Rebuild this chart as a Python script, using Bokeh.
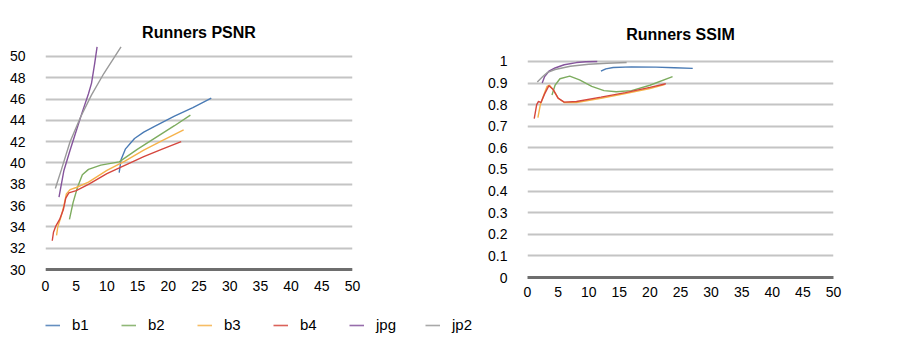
from bokeh.plotting import figure
from bokeh.layouts import column, row
from bokeh.models import Range1d, FixedTicker, NumeralTickFormatter, Legend, LegendItem, Span
from bokeh.embed import file_html
from bokeh.resources import INLINE

# ---------------- data ----------------
series_names = ["b1", "b2", "b3", "b4", "jpg", "jp2"]
series_colors = ["#4a7bb5", "#7dac5f", "#f6b24a", "#d5463d", "#85549c", "#9a9a9a"]

# PSNR chart (x, value)
psnr_b1_x = [12.0, 12.3, 13.0, 14.5, 16.0, 18.0, 21.0, 24.0, 27.0]
psnr_b1_y = [39.1, 40.3, 41.3, 42.3, 42.9, 43.5, 44.4, 45.2, 46.1]
psnr_b2_x = [3.9, 4.5, 5.2, 6.0, 7.0, 9.0, 12.0, 15.0, 18.0, 21.0, 23.6]
psnr_b2_y = [34.7, 36.3, 37.7, 38.9, 39.4, 39.8, 40.1, 41.3, 42.4, 43.5, 44.5]
psnr_b3_x = [1.8, 2.0, 2.5, 3.0, 3.4, 4.0, 5.0, 7.0, 10.0, 13.0, 16.0, 19.0, 22.5]
psnr_b3_y = [33.2, 34.0, 34.9, 36.0, 37.1, 37.5, 37.7, 38.2, 39.3, 40.2, 41.2, 42.1, 43.1]
psnr_b4_x = [1.1, 1.3, 1.7, 2.3, 2.9, 3.3, 3.8, 5.0, 7.0, 10.0, 13.0, 16.0, 19.0, 22.1]
psnr_b4_y = [32.7, 33.5, 34.1, 34.7, 35.6, 36.7, 37.2, 37.4, 38.0, 39.0, 39.8, 40.6, 41.3, 42.0]
psnr_jpg_x = [2.2, 3.0, 4.0, 5.0, 6.0, 7.0, 7.5, 8.0, 8.4]
psnr_jpg_y = [36.8, 39.3, 41.2, 43.0, 44.8, 46.5, 47.5, 49.3, 50.9]
psnr_jp2_x = [1.6, 2.6, 4.0, 5.7, 7.5, 9.5, 12.3]
psnr_jp2_y = [37.6, 39.4, 42.0, 44.3, 46.4, 48.4, 50.9]

# SSIM chart (x, value)
ssim_b1_x = [12.0, 12.8, 14.0, 17.0, 21.0, 24.0, 27.0]
ssim_b1_y = [0.955, 0.966, 0.972, 0.975, 0.974, 0.971, 0.968]
ssim_b2_x = [4.0, 4.5, 5.3, 6.9, 8.5, 10.5, 12.5, 14.5, 17.0, 20.0, 23.7]
ssim_b2_y = [0.845, 0.89, 0.92, 0.932, 0.915, 0.885, 0.865, 0.86, 0.865, 0.89, 0.93]
ssim_b3_x = [1.7, 2.1, 2.6, 3.2, 3.6, 4.3, 5.0, 6.0, 8.0, 12.0, 16.0, 20.0, 22.4]
ssim_b3_y = [0.74, 0.80, 0.84, 0.885, 0.89, 0.865, 0.83, 0.81, 0.81, 0.83, 0.852, 0.875, 0.893]
ssim_b4_x = [1.1, 1.5, 1.8, 2.2, 2.8, 3.5, 4.2, 5.0, 6.0, 8.0, 12.0, 16.0, 20.0, 22.6]
ssim_b4_y = [0.735, 0.80, 0.815, 0.81, 0.85, 0.888, 0.87, 0.83, 0.812, 0.815, 0.835, 0.856, 0.88, 0.897]
ssim_jpg_x = [2.4, 2.8, 3.5, 4.5, 6.0, 8.0, 9.5, 11.4]
ssim_jpg_y = [0.90, 0.93, 0.955, 0.97, 0.985, 0.995, 0.999, 1.0]
ssim_jp2_x = [1.6, 2.5, 3.2, 4.5, 7.0, 10.0, 13.0, 16.2]
ssim_jp2_y = [0.905, 0.93, 0.948, 0.963, 0.978, 0.987, 0.992, 0.995]

x_ticks = [0, 5, 10, 15, 20, 25, 30, 35, 40, 45, 50]
psnr_ticks = [30, 32, 34, 36, 38, 40, 42, 44, 46, 48, 50]
ssim_ticks = [0, 0.1, 0.2, 0.3, 0.4, 0.5, 0.6, 0.7, 0.8, 0.9, 1.0]

psnr_data = [(psnr_b1_x, psnr_b1_y), (psnr_b2_x, psnr_b2_y), (psnr_b3_x, psnr_b3_y),
             (psnr_b4_x, psnr_b4_y), (psnr_jpg_x, psnr_jpg_y), (psnr_jp2_x, psnr_jp2_y)]
ssim_data = [(ssim_b1_x, ssim_b1_y), (ssim_b2_x, ssim_b2_y), (ssim_b3_x, ssim_b3_y),
             (ssim_b4_x, ssim_b4_y), (ssim_jpg_x, ssim_jpg_y), (ssim_jp2_x, ssim_jp2_y)]

FONT = "Liberation Sans"
AXIS_COLOR = "#6e6e6e"


def style(p, yticks):
    p.title.text_font = FONT
    p.title.text_font_size = "16px"
    p.title.text_font_style = "bold"
    p.title.align = "center"
    p.title.text_color = "#000000"
    p.outline_line_color = None
    p.background_fill_color = None
    p.border_fill_color = None
    p.xgrid.grid_line_color = None
    p.ygrid.grid_line_color = "#c4c4c4"
    p.ygrid.grid_line_width = 2
    p.ygrid.ticker = FixedTicker(ticks=yticks)
    p.yaxis.ticker = FixedTicker(ticks=yticks)
    p.xaxis.ticker = FixedTicker(ticks=x_ticks)
    for ax in (p.xaxis[0], p.yaxis[0]):
        ax.major_tick_line_color = None
        ax.minor_tick_line_color = None
        ax.major_label_text_font = FONT
        ax.major_label_text_font_size = "14px"
        ax.major_label_text_color = "#000000"
    p.yaxis.axis_line_color = None
    p.yaxis.major_label_standoff = 14


# ---------------- PSNR ----------------
p1 = figure(width=485, height=305, output_backend="svg", toolbar_location=None,
            title="Runners PSNR", x_range=Range1d(0, 50), y_range=Range1d(29.25, 51.03),
            min_border_left=45, min_border_right=133, min_border_top=45, min_border_bottom=28)
style(p1, psnr_ticks)
p1.title.standoff = 10
p1.xaxis.axis_line_color = None
p1.xaxis.major_label_standoff = -3
p1.add_layout(Span(location=psnr_ticks[0], dimension="width",
                   line_color=AXIS_COLOR, line_width=3))
for (xs, ys), c in zip(psnr_data, series_colors):
    p1.line(xs, ys, line_color=c, line_width=1.4)

# ---------------- SSIM ----------------
p2 = figure(width=427, height=305, output_backend="svg", toolbar_location=None,
            title="Runners SSIM", x_range=Range1d(0, 50), y_range=Range1d(0, 1.074),
            min_border_left=37, min_border_right=79, min_border_top=45, min_border_bottom=28)
style(p2, ssim_ticks)
p2.title.standoff = 5
p2.yaxis.formatter = NumeralTickFormatter(format="0.[0]")
p2.xaxis.axis_line_color = AXIS_COLOR
p2.xaxis.axis_line_width = 3
p2.xaxis.major_label_standoff = 3
for (xs, ys), c in zip(ssim_data, series_colors):
    p2.line(xs, ys, line_color=c, line_width=1.4)

# ---------------- legend ----------------
p3 = figure(width=912, height=49, output_backend="svg", toolbar_location=None,
            x_range=Range1d(0, 1), y_range=Range1d(0, 1), min_border=0)
p3.axis.visible = False
p3.grid.grid_line_color = None
p3.outline_line_color = None
p3.background_fill_color = None
p3.border_fill_color = None
items = []
for name, c in zip(series_names, series_colors):
    r = p3.line([-10, -9], [-10, -10], line_color=c, line_width=1.6, line_alpha=0.85)
    items.append(LegendItem(label=name, renderers=[r]))
legend = Legend(items=items, orientation="horizontal", location=(45, 21),
                glyph_width=15, glyph_height=16, label_standoff=12, spacing=29,
                padding=0, margin=0, border_line_color=None, background_fill_alpha=0,
                label_text_font=FONT, label_text_font_size="15px", label_text_color="#000000")
p3.add_layout(legend, "center")

layout = column(row(p1, p2), p3)
open("out.html", "w").write(file_html(layout, INLINE))
